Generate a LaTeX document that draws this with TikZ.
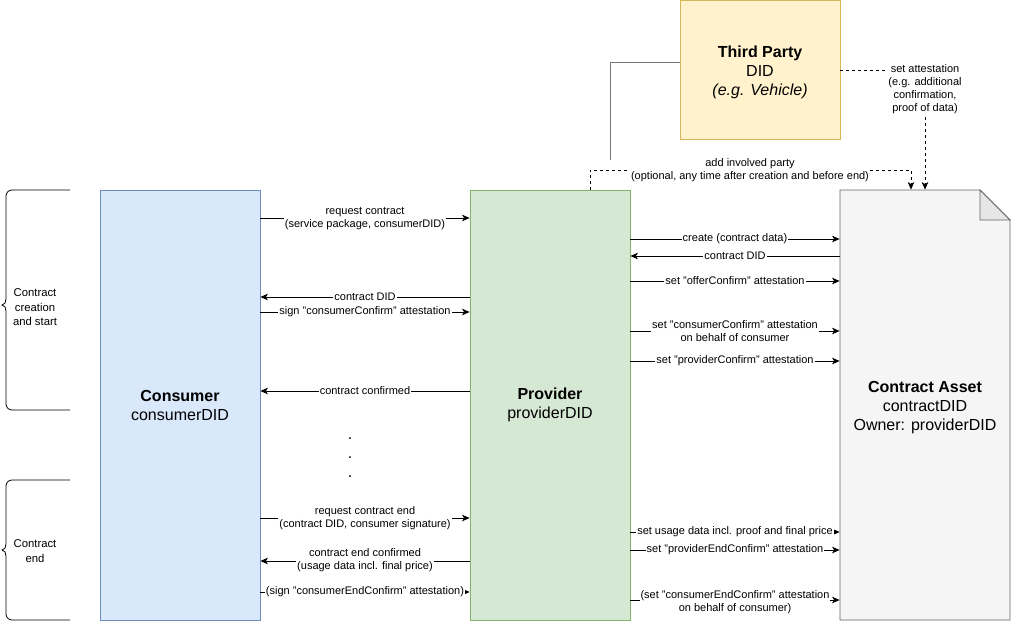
\documentclass[tikz,border=0pt]{standalone}
\usepackage{fontspec}
\setmainfont{Liberation Sans}
\usetikzlibrary{arrows.meta,calc}
\definecolor{cfill}{HTML}{DAE8FC}
\definecolor{cdraw}{HTML}{6C8EBF}
\definecolor{pfill}{HTML}{D5E8D4}
\definecolor{pdraw}{HTML}{82B366}
\definecolor{tfill}{HTML}{FFF2CC}
\definecolor{tdraw}{HTML}{D6B656}
\definecolor{afill}{HTML}{F5F5F5}
\definecolor{adraw}{HTML}{666666}
\definecolor{afold}{HTML}{E6E6E6}
\definecolor{lgray}{HTML}{777777}
\tikzset{
  actor/.style={draw, line width=0.8pt, minimum width=160pt, minimum height=430pt, align=center, font=\fontsize{16}{19}\selectfont, inner sep=0pt},
  arr/.style={draw=black, line width=0.8pt, -{Stealth[length=7.5pt,width=6.5pt,inset=2pt]}},
  darr/.style={arr, dash pattern=on 3pt off 3pt},
  lbl/.style={fill=white, inner sep=1pt, align=center, font=\fontsize{11}{13}\selectfont},
  bracetxt/.style={align=center, font=\fontsize{11.3}{14.5}\selectfont, inner sep=0pt},
  brace/.style={draw=black, line width=0.8pt}
}
\begin{document}
\begin{tikzpicture}[x=1pt,y=-1pt]
\useasboundingbox[fill=white] (0,0) rectangle (1011,621);

% contract asset (document shape)
\coordinate (anw) at (840,190);
\coordinate (ase) at (1010,620);
\draw[line width=0.8pt, draw=adraw, fill=afill] (anw) -- (980,190) -- (1010,220) -- (ase) -- (840,620) -- cycle;
\draw[line width=0.8pt, draw=adraw, fill=afold] (980,190) -- (980,220) -- (1010,220) -- cycle;
\node[actor, draw=none, minimum width=170pt] (asset) at (925,405) {};
\node[align=center, font=\fontsize{16}{19}\selectfont, inner sep=0pt] (assettxt) at (925,408) {\textbf{Contract Asset}\\contractDID\\Owner: providerDID};

% actors
\node[actor, fill=cfill, draw=cdraw] (consumer) at (180,405) {\textbf{Consumer}\\consumerDID};
\node[actor, fill=pfill, draw=pdraw] (provider) at (550,405) {\textbf{Provider}\\providerDID};
\node[draw=tdraw, fill=tfill, line width=0.8pt, minimum width=160pt, minimum height=139pt, align=center, font=\fontsize{16}{19}\selectfont, text depth=0pt] (third) at (760,70) {};
\node[align=center, font=\fontsize{16}{19}\selectfont, inner sep=0pt] (thirdtxt) at (760,72) {\textbf{Third Party}\\DID\\\textit{(e.g. Vehicle)}};

% braces
\node[bracetxt] (b1) at (35,307.5) {Contract\\creation\\and start};
\node[bracetxt] (b2) at (35,551) {Contract\\end};
\draw[brace] (70,190) -- (12,190) to[out=180,in=90] (6,196) -- (6,299) to[out=-90,in=0] (2,305) to[out=0,in=90] (6,311) -- (6,404) to[out=-90,in=180] (12,410) -- (70,410);
\draw[brace] (70,480) -- (12,480) to[out=180,in=90] (6,486) -- (6,544) to[out=-90,in=0] (2,550) to[out=0,in=90] (6,556) -- (6,614) to[out=-90,in=180] (12,620) -- (70,620);

% consumer <-> provider
\draw[arr] (consumer.east |- 0,218) -- node[lbl, yshift=-1pt]{request contract\\(service package, consumerDID)} (provider.west |- 0,218);
\draw[arr] (provider.west |- 0,297) -- node[lbl]{contract DID} (consumer.east |- 0,297);
\draw[arr] (consumer.east |- 0,312) -- node[lbl]{sign "consumerConfirm" attestation} (provider.west |- 0,312);
\draw[arr] (provider.west |- 0,391) -- node[lbl]{contract confirmed} (consumer.east |- 0,391);
\node[font=\fontsize{16}{19}\selectfont, align=center, inner sep=0pt] (dots) at (350,458) {.\\.\\.};
\draw[arr] (consumer.east |- 0,518) -- node[lbl]{request contract end\\(contract DID, consumer signature)} (provider.west |- 0,518);
\draw[arr] (provider.west |- 0,561) -- node[lbl, yshift=1pt]{contract end confirmed\\(usage data incl. final price)} (consumer.east |- 0,561);
\draw[arr] (consumer.east |- 0,592) -- node[lbl]{(sign "consumerEndConfirm" attestation)} (provider.west |- 0,592);

% provider <-> asset
\draw[arr] (provider.east |- 0,239) -- node[lbl]{create (contract data)} (asset.west |- 0,239);
\draw[arr] (asset.west |- 0,256) -- node[lbl]{contract DID} (provider.east |- 0,256);
\draw[arr] (provider.east |- 0,281) -- node[lbl]{set "offerConfirm" attestation} (asset.west |- 0,281);
\draw[arr] (provider.east |- 0,331) -- node[lbl]{set "consumerConfirm" attestation\\on behalf of consumer} (asset.west |- 0,331);
\draw[arr] (provider.east |- 0,361) -- node[lbl]{set "providerConfirm" attestation} (asset.west |- 0,361);
\draw[arr] (provider.east |- 0,532) -- node[lbl]{set usage data incl. proof and final price} (asset.west |- 0,532);
\draw[arr] (provider.east |- 0,550) -- node[lbl]{set "providerEndConfirm" attestation} (asset.west |- 0,550);
\draw[arr] (provider.east |- 0,600) -- node[lbl, yshift=-2pt]{(set "consumerEndConfirm" attestation\\on behalf of consumer)} (asset.west |- 0,600);

% third party connections
\coordinate (tpend) at (610,160);
\draw[lgray, line width=0.8pt] (third.west |- 0,62) -| (tpend);
\coordinate (ipcorner) at (911,170);
\draw[darr] (provider.north -| 590,0) |- (ipcorner) -- (asset.north -| 911,0);
\node[lbl] (iplabel) at (750,170.5) {add involved party\\(optional, any time after creation and before end)};
\draw[darr] (third.east |- 0,70) -| node[lbl, pos=0.58]{set attestation\\(e.g. additional\\confirmation,\\proof of data)} (asset.north -| 925,0);
\end{tikzpicture}
\end{document}
